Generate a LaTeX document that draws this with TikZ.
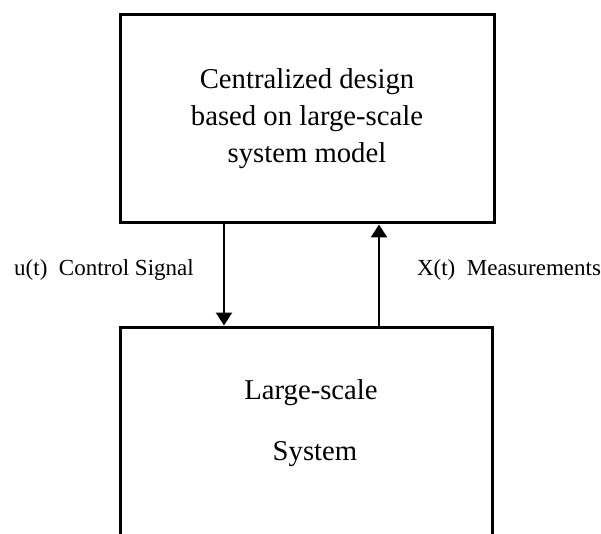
\documentclass[tikz,border=0pt]{standalone}
\usepackage{fontspec}
\setmainfont{Liberation Serif}
\usetikzlibrary{arrows.meta}

\begin{document}
\begin{tikzpicture}[x=1pt,y=-1pt,
  block/.style={draw, line width=3pt, rectangle, align=center,
    font=\fontsize{28.7}{37}\selectfont, inner sep=0pt},
  flow/.style={line width=2.5pt, -{Triangle[length=13pt,width=16pt]}},
  sig/.style={font=\fontsize{23}{27}\selectfont, inner sep=0pt, anchor=base},
  body/.style={font=\fontsize{28.7}{37}\selectfont, inner sep=0pt, anchor=base}]
  \useasboundingbox (0,0) rectangle (601,534);
  \begin{scope}
    \clip (0,0) rectangle (601,534);

    % controller block
    \node[block, minimum width=374pt, minimum height=208pt] (ctrl) at (307,119)
      {Centralized design\\based on large-scale\\system model};

    % plant block (runs past the lower edge)
    \node[block, minimum width=372pt, minimum height=273pt] (plant) at (306,463.5) {};
    \node[body] (plantA) at (311,399) {Large-scale};
    \node[body] (plantB) at (315,460) {System};

    % signal lines
    \coordinate (ux) at (224,0);
    \coordinate (xx) at (379,0);
    \draw[flow] (ctrl.south -| ux) -- (plant.north -| ux);
    \draw[flow] (plant.north -| xx) -- (ctrl.south -| xx);

    \node[sig] (ulab) at (104,275) {u(t)\ \ Control Signal};
    \node[sig] (xlab) at (509,275) {X(t)\ \ Measurements};
  \end{scope}
\end{tikzpicture}
\end{document}
